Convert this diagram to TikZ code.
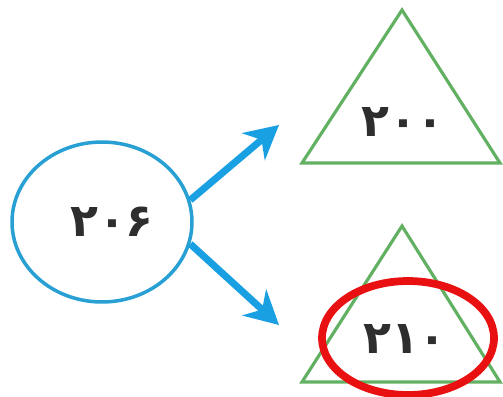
\documentclass[tikz,border=0pt]{standalone}
\usepackage{fontspec}
\newfontfamily\arabicfont[Script=Arabic]{DejaVu Sans}
\usepackage{xcolor}
\usetikzlibrary{shapes.geometric, arrows.meta}

\definecolor{ringblue}{RGB}{40,160,212}
\definecolor{arrowblue}{RGB}{25,160,226}
\definecolor{trigreen}{RGB}{98,176,98}
\definecolor{hilitered}{RGB}{232,16,16}

\begin{document}
\begin{tikzpicture}[
    x=0.02cm, y=-0.02cm,
    num/.style={font=\arabicfont\bfseries\fontsize{26}{28}\selectfont, text=black!82},
    numcirc/.style={ellipse, draw=ringblue, line width=2pt, fill=white, minimum width=3.6cm, minimum height=3.2cm},
    tri/.style={draw=trigreen, line width=1.8pt, fill=white, line join=miter},
    arrow/.style={draw=arrowblue, line width=4pt, -{Stealth[length=19pt, width=20pt, inset=6pt]}},
    hilite/.style={ellipse, draw=hilitered, line width=4.4pt, minimum width=3.44cm, minimum height=2.28cm}
]
\useasboundingbox (0,0) rectangle (503,396);

% number to split
\node[numcirc] (circ) at (102,222) {};
\node[num] (start) at (112,222) {۲۰۶};

% the two tens
\draw[tri] (402,10) -- (500,163) -- (302,163) -- cycle;
\draw[tri] (402,226) -- (500,382) -- (302,382) -- cycle;
\node[num] (lower) at (403,122) {۲۰۰};
\node[num] (upper) at (405,339) {۲۱۰};

\coordinate (tipa) at (279,125);
\coordinate (tipb) at (279,325);
\draw[arrow] (circ.14) -- (tipa);
\draw[arrow] (circ.-14) -- (tipb);

% answer circled
\node[hilite] (ring) at (408,338) {};

\end{tikzpicture}
\end{document}
